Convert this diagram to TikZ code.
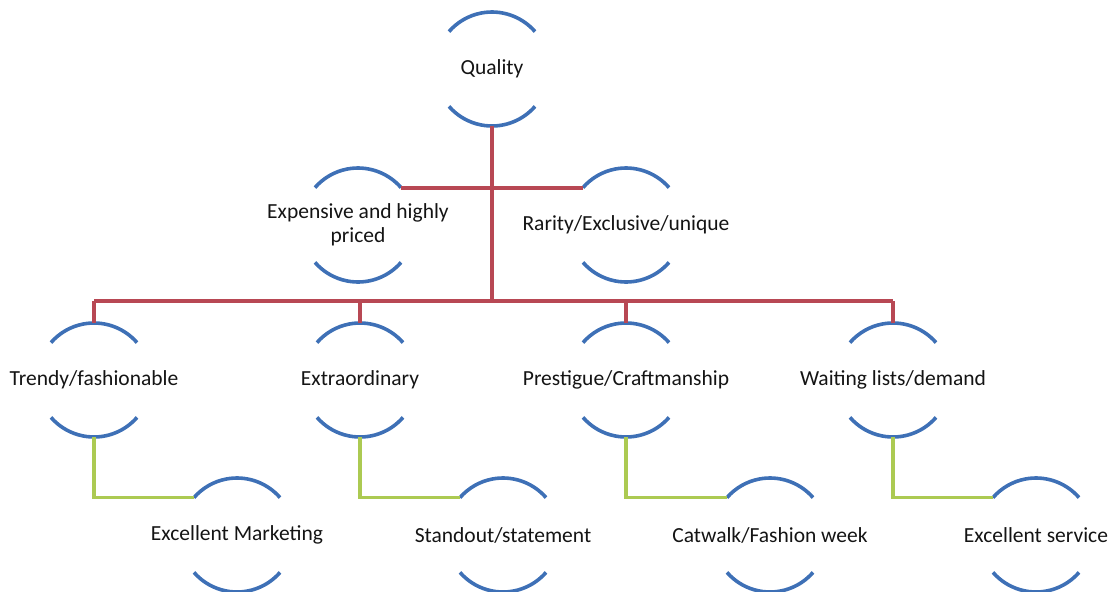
\documentclass[tikz,border=0pt]{standalone}
\usepackage{fontspec}
\setmainfont{Carlito}
\usetikzlibrary{calc}
\definecolor{arcblue}{RGB}{62,112,182}
\definecolor{linered}{RGB}{184,72,84}
\definecolor{linegreen}{RGB}{172,202,82}
\tikzset{
  bubtext/.style={inner sep=0pt, outer sep=0pt, align=center, font=\fontsize{21.5}{24}\selectfont, text=black!92},
  arcst/.style={draw=arcblue, line width=3.6pt},
  redl/.style={draw=linered, line width=4pt},
  grnl/.style={draw=linegreen, line width=3.4pt},
}
\newcommand\bubble[4]{%
  \node[bubtext] (#1) at (#2,-#3) {#4};
  \coordinate (#1-top) at ($(#1.center)+(0,57)$);
  \coordinate (#1-bot) at ($(#1.center)+(0,-57)$);
  \coordinate (#1-tl) at ($(#1.center)+(139:57)$);
  \coordinate (#1-tr) at ($(#1.center)+(41:57)$);
  \draw[arcst] (#1-tr) arc[start angle=41, end angle=139, radius=57];
  \draw[arcst] ($(#1.center)+(-41:57)$) arc[start angle=-41, end angle=-139, radius=57];
}
\begin{document}
\begin{tikzpicture}[x=1pt,y=1pt]
\useasboundingbox (0,0) rectangle (1112,-592);
\bubble{q}{492}{69}{Quality}
\bubble{e}{358}{225}{Expensive and highly\\priced}
\bubble{r}{626}{225}{Rarity/Exclusive/unique}
\bubble{t}{94}{380}{Trendy/fashionable}
\bubble{x}{360}{380}{Extraordinary}
\bubble{p}{626}{380}{Prestigue/Craftmanship}
\bubble{w}{893}{380}{Waiting lists/demand}
\bubble{m}{237}{535}{Excellent Marketing}
\bubble{s}{503}{535}{Standout/statement}
\bubble{c}{770}{535}{Catwalk/Fashion week}
\bubble{v}{1036}{535}{Excellent service}
\coordinate (bus) at (0,-301);
% red connectors
\draw[redl] (e-tr) -- (r-tl);
\draw[redl] (q-bot) -- (q-bot |- bus);
\draw[redl] (t-top |- bus) -- (w-top |- bus);
\foreach \n in {t,x,p,w} { \draw[redl] (\n-top |- bus) -- (\n-top); }
% green connectors
\draw[grnl] (t-bot) |- (m-tl);
\draw[grnl] (x-bot) |- (s-tl);
\draw[grnl] (p-bot) |- (c-tl);
\draw[grnl] (w-bot) |- (v-tl);
\end{tikzpicture}
\end{document}
